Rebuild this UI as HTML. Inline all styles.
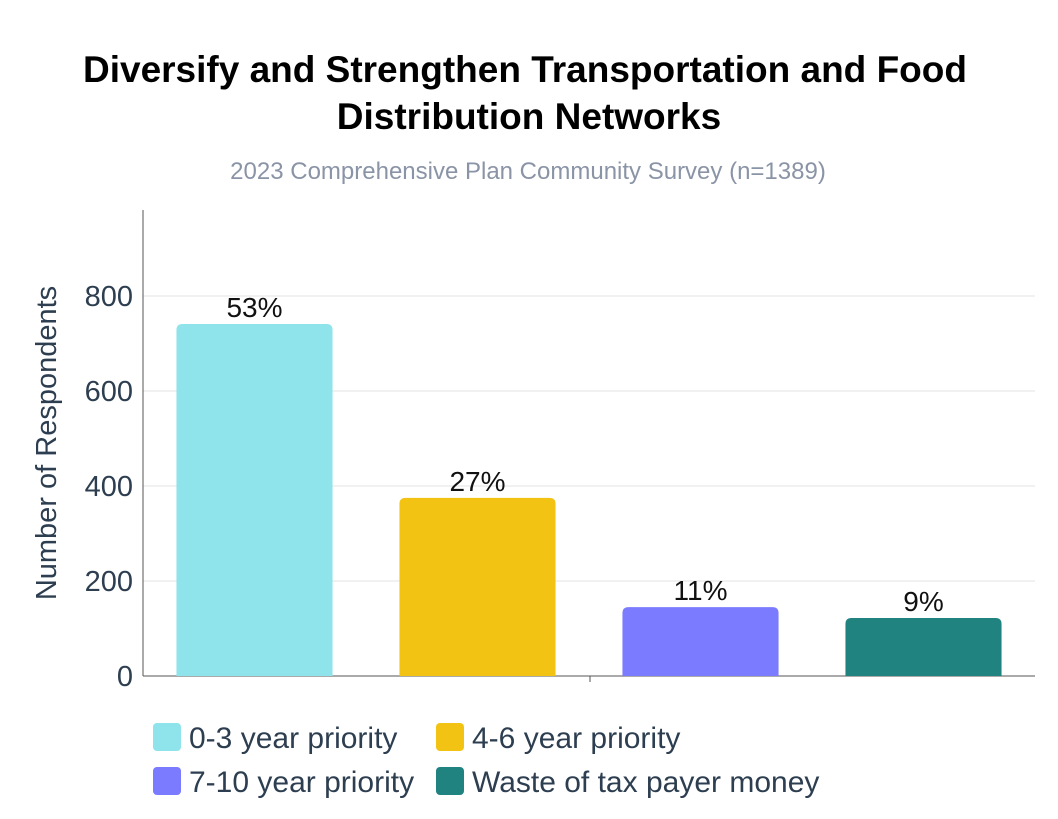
<!DOCTYPE html>
<html><head><meta charset="utf-8"><style>
body{margin:0;background:#fff;font-family:"Liberation Sans",sans-serif;}
#wrap{position:relative;width:1058px;height:819px;overflow:hidden;}
</style></head><body>
<div id="wrap">
<svg id="chart" width="1058" height="819"></svg>
</div>
<script>
const categories=["0-3 year priority","4-6 year priority","7-10 year priority","Waste of tax payer money"];
const values=[741,375,145,122];
const labels=["53%","27%","11%","9%"];
const colors=["#8fe3ea","#f3c314","#7b7bff","#218380"];
const yTicks=[0,200,400,600,800];
const NS="http://www.w3.org/2000/svg";
const svg=document.getElementById('chart');
function el(t,a,txt){const e=document.createElementNS(NS,t);for(const k in a)e.setAttribute(k,a[k]);if(txt!=null)e.textContent=txt;svg.appendChild(e);return e;}
const x0=143,x1=1035,yBase=676,pxPer=380/800;
const y=v=>yBase-v*pxPer;
const band=(x1-x0)/categories.length;
const bx=i=>x0+band*i+band*0.15;
const bw=band*0.7;
let t=el('text',{x:525,y:82,'text-anchor':'middle','font-size':37,'font-weight':'bold',fill:'#000'},'Diversify and Strengthen Transportation and Food');

t=el('text',{x:529,y:129,'text-anchor':'middle','font-size':37,'font-weight':'bold',fill:'#000'},'Distribution Networks');

t=el('text',{x:528,y:179,'text-anchor':'middle','font-size':24,fill:'#8a94a6'},'2023 Comprehensive Plan Community Survey (n=1389)');

yTicks.forEach(v=>{
  if(v>0){const g=el('line',{x1:x0,x2:x1,y1:y(v),y2:y(v),stroke:'#e3e3e3','stroke-width':1});
  }
  const l=el('text',{x:133,y:y(v)+10,'text-anchor':'end','font-size':29,fill:'#2d3e50'},String(v));
  
});
let a=el('line',{x1:x0,x2:x0,y1:210,y2:yBase,stroke:'#555','stroke-width':1});

a=el('line',{x1:x0,x2:x1,y1:yBase,y2:yBase,stroke:'#555','stroke-width':1});

a=el('line',{x1:590,x2:590,y1:yBase,y2:yBase+6,stroke:'#555','stroke-width':1});

t=el('text',{x:0,y:0,transform:'translate(56,443) rotate(-90)','text-anchor':'middle','font-size':29,fill:'#2d3e50'},'Number of Respondents');

values.forEach((v,i)=>{
  const X=bx(i),Y=y(v),r=6;
  const p=el('path',{d:`M${X},${yBase}V${Y+r}Q${X},${Y} ${X+r},${Y}H${X+bw-r}Q${X+bw},${Y} ${X+bw},${Y+r}V${yBase}Z`,fill:colors[i]});
  
  const l=el('text',{x:X+bw/2,y:Y-7,'text-anchor':'middle','font-size':28,fill:'#111'},labels[i]);
  
});
const legPos=[[153,737],[436,737],[153,781],[436,781]];
categories.forEach((c,i)=>{
  const [lx,ly]=legPos[i];
  const r=el('rect',{x:lx,y:ly-14,width:28,height:28,rx:4,fill:colors[i]});
  
  const l=el('text',{x:lx+36,y:ly+11,'font-size':30,fill:'#2d3e50'},c);
  
});
</script>
</body></html>
